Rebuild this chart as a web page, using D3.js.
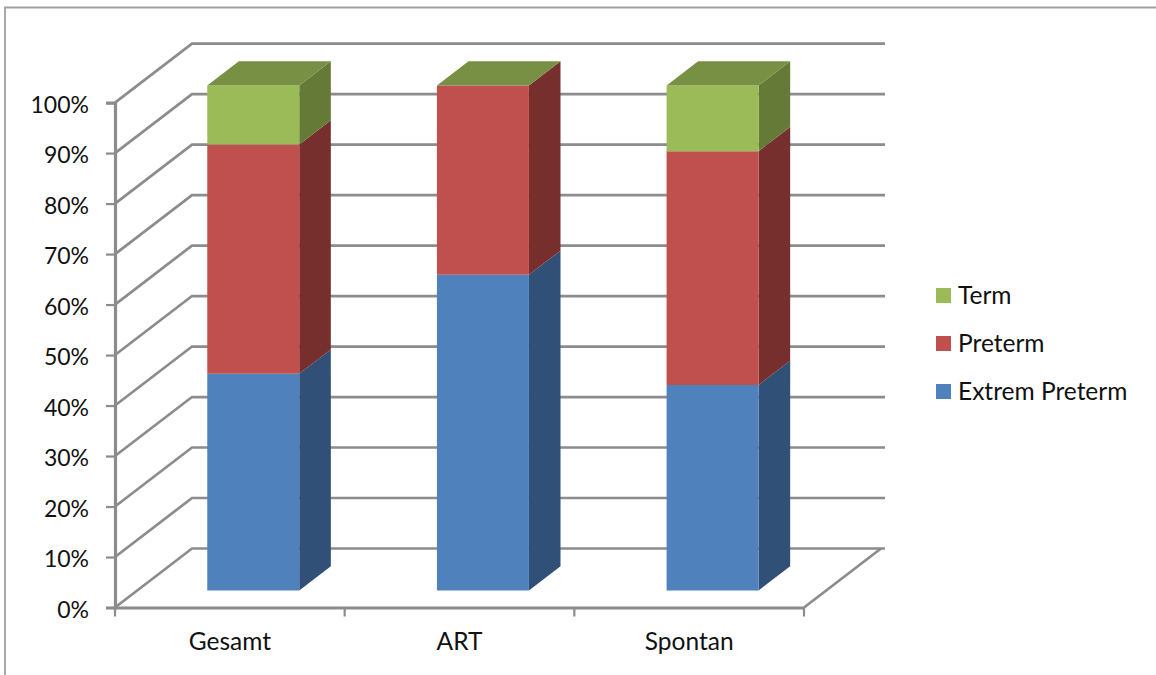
<!DOCTYPE html>
<html>
<head>
<meta charset="utf-8">
<script src="https://cdn.jsdelivr.net/npm/d3@7/dist/d3.min.js"></script>
<style>
  html, body { margin: 0; padding: 0; background: #fff; }
  svg { display: block; }
  text { font-family: Lato, "Open Sans", sans-serif; font-size: 24.5px; fill: #111; }
</style>
</head>
<body>
<div id="chart"></div>
<script>
// Stacked 3D column chart of birth categories, built on a simple oblique projection.
const categories = ["Gesamt", "ART", "Spontan"];
const extremPreterm = [0.429, 0.625, 0.407];
const preterm = [0.454, 0.375, 0.463];
const term = [0.117, 0, 0.130];
const seriesNames = ["Extrem Preterm", "Preterm", "Term"];
const yTicks = [0, 0.1, 0.2, 0.3, 0.4, 0.5, 0.6, 0.7, 0.8, 0.9, 1];

const front = ["#4f81bd", "#c0504d", "#9bbb59"];
const side = ["#305078", "#772f2e", "#667a37"];
const topFace = "#779043";
const lineColor = "#8c8c8c";

const W = 1156, H = 675;
const svg = d3.select("#chart").append("svg").attr("width", W).attr("height", H);

// Scales on the front plane of the chart box
const y = d3.scaleLinear().domain([0, 1]).range([607.5, 102.6]);
const x = d3.scaleBand().domain(categories).range([115, 804]);

// Oblique depth: t = 0 at the front plane, t = 1 at the back wall
const depthX = d3.scaleLinear().domain([0, 1]).range([0, 77]);
const depthY = d3.scaleLinear().domain([0, 1]).range([0, -59]);
const proj = (px, py, t) => [px + depthX(t), py + depthY(t)];

// Columns occupy this slice of the box depth
const barNear = 0.29, barFar = 0.70;
const barWidth = 92;

const stack = d3.stack().keys([0, 1, 2]).value((d, k) => d[k])(
  categories.map((c, i) => [extremPreterm[i], preterm[i], term[i]])
);

// Outer chart frame
svg.append("path")
  .attr("d", `M5,${H}V7.5H${W}`)
  .attr("fill", "none").attr("stroke", "#a0a0a0").attr("stroke-width", 1.8);

// Gridlines on the side and back walls
const grid = svg.append("g").attr("fill", "none").attr("stroke", lineColor);
grid.selectAll("path").data(yTicks).join("path")
  .attr("stroke-width", 2.7)
  .attr("d", t => d3.line()([
    proj(115, y(t), 0),
    proj(115, y(t), 1),
    [885, proj(115, y(t), 1)[1]]
  ]));

// Floor edge running from the front right corner to the back wall
grid.append("path")
  .attr("stroke-width", 2.7)
  .attr("d", d3.line()([[804, y(0)], proj(804, y(0), 1)]));

// Column faces
const poly = pts => d3.line()(pts) + "Z";
const shift = p => [p[0] + depthX(barFar - barNear), p[1] + depthY(barFar - barNear)];
categories.forEach((c, i) => {
  const x0 = x(c) + x.bandwidth() / 2 - barWidth / 2 + 1.1;
  const x1 = x0 + barWidth;
  const g = svg.append("g");
  let topY = null;
  stack.forEach((layer, k) => {
    const [v0, v1] = layer[i];
    if (v1 - v0 <= 0) return;
    const a = proj(x0, y(v1), barNear), b = proj(x1, y(v1), barNear);
    const c0 = proj(x1, y(v0), barNear), d = proj(x0, y(v0), barNear);
    g.append("path").attr("d", poly([b, shift(b), shift(c0), c0])).attr("fill", side[k]);
    g.append("path").attr("d", poly([a, b, c0, d])).attr("fill", front[k]);
    topY = y(v1);
  });
  const a = proj(x0, topY, barNear), b = proj(x1, topY, barNear);
  g.append("path").attr("d", poly([a, b, shift(b), shift(a)])).attr("fill", topFace);
});

// Value axis
const yAxis = svg.append("g").attr("transform", "translate(115,0)")
  .call(d3.axisLeft(y).tickValues(yTicks).tickFormat(d3.format(".0%")).tickSize(9).tickPadding(17));
yAxis.select(".domain").attr("stroke", lineColor).attr("stroke-width", 3.2);
yAxis.selectAll(".tick line").attr("stroke", lineColor).attr("stroke-width", 2.2);
yAxis.selectAll(".tick text").attr("dy", "0.38em").attr("y", 1).style("font-size", "23px").style("font-family", "Lato").attr("fill", "#111");

// Category axis: labels sit mid-band, tick marks on band edges
const xAxis = svg.append("g").attr("transform", `translate(0,${y(0)})`)
  .call(d3.axisBottom(x).tickSize(0).tickPadding(25));
xAxis.select(".domain").attr("stroke", lineColor).attr("stroke-width", 3.2);
xAxis.selectAll(".tick text").style("font-size", "24.5px").style("font-family", "Lato").attr("fill", "#111");
const edges = [...categories.map(c => x(c)), x.range()[1]];
xAxis.selectAll("line.edge").data(edges).join("line").attr("class", "edge")
  .attr("x1", d => d).attr("x2", d => d).attr("y1", 0).attr("y2", 9)
  .attr("stroke", lineColor).attr("stroke-width", 2.2);

// Legend, topmost series first
const legendOrder = [2, 1, 0];
const legend = svg.append("g");
legendOrder.forEach((k, row) => {
  const ly = 288 + row * 48;
  legend.append("rect").attr("x", 936).attr("y", ly).attr("width", 15).attr("height", 15).attr("fill", front[k]);
  legend.append("text").attr("x", 958).attr("y", ly + 7).attr("dy", "0.36em").text(seriesNames[k]);
});
</script>
</body>
</html>
